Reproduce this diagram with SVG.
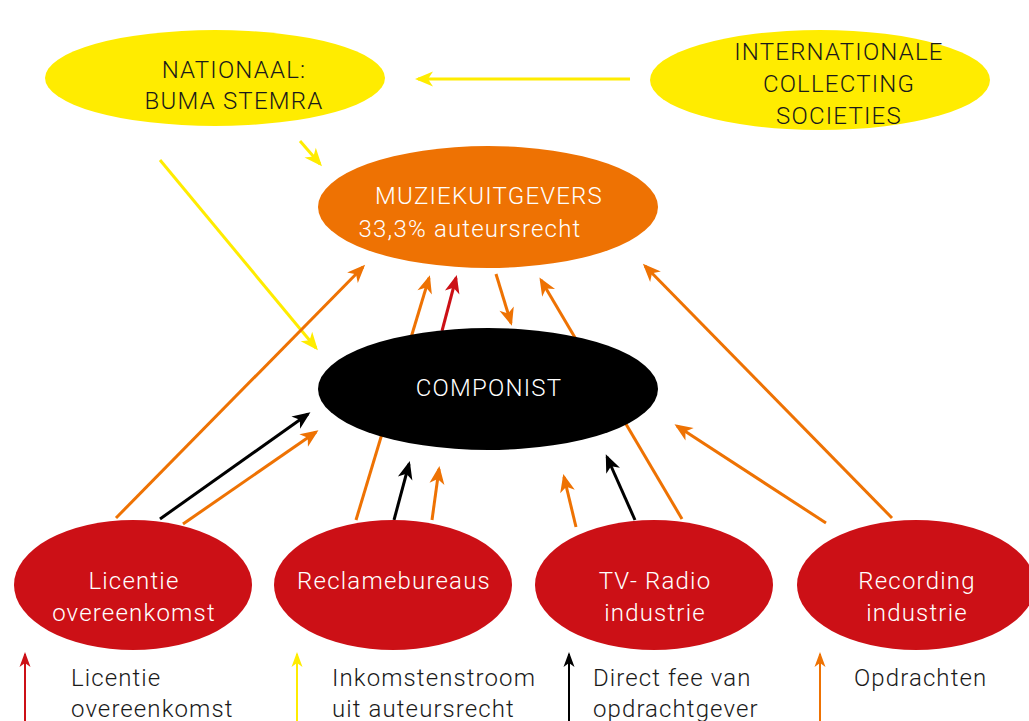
<svg xmlns="http://www.w3.org/2000/svg" width="1029" height="721" viewBox="0 0 1029 721">
  <style>
    .lbl { font-family: Roboto, "Liberation Sans", sans-serif; font-weight: 300; font-size: 24px; letter-spacing: 1.2px; text-anchor: middle; }
    .dark { fill: #1a1a1a; }
    .light { fill: #ffffff; }
    .leg { font-family: Roboto, "Liberation Sans", sans-serif; font-weight: 300; font-size: 24px; letter-spacing: 1.1px; fill: #1a1a1a; }
    .c { fill: none; stroke-width: 3; }
    .y { stroke: #FFEC00; }
    .o { stroke: #EE7203; }
    .r { stroke: #CC1016; }
    .k { stroke: #000000; }
    .ya { marker-end: url(#ay); }
    .oa { marker-end: url(#ao); }
    .ra { marker-end: url(#ar); }
    .ka { marker-end: url(#ak); }
    .l { fill: none; stroke-width: 2; }
  </style>
  <defs>
    <marker id="ay" viewBox="-20 -10 24 20" markerWidth="24" markerHeight="20" markerUnits="userSpaceOnUse" refX="-3" refY="0" orient="auto" overflow="visible">
      <path d="M0,0 L-18,-7.5 L-13,0 L-18,7.5 Z" fill="#FFEC00"/>
    </marker>
    <marker id="ao" viewBox="-20 -10 24 20" markerWidth="24" markerHeight="20" markerUnits="userSpaceOnUse" refX="-3" refY="0" orient="auto" overflow="visible">
      <path d="M0,0 L-18,-7.5 L-13,0 L-18,7.5 Z" fill="#EE7203"/>
    </marker>
    <marker id="ar" viewBox="-20 -10 24 20" markerWidth="24" markerHeight="20" markerUnits="userSpaceOnUse" refX="-3" refY="0" orient="auto" overflow="visible">
      <path d="M0,0 L-18,-7.5 L-13,0 L-18,7.5 Z" fill="#CC1016"/>
    </marker>
    <marker id="ak" viewBox="-20 -10 24 20" markerWidth="24" markerHeight="20" markerUnits="userSpaceOnUse" refX="-3" refY="0" orient="auto" overflow="visible">
      <path d="M0,0 L-18,-7.5 L-13,0 L-18,7.5 Z" fill="#000000"/>
    </marker>
    <!-- smaller heads for the legend -->
    <marker id="lr" viewBox="-16 -8 18 16" markerWidth="18" markerHeight="16" markerUnits="userSpaceOnUse" refX="-2" refY="0" orient="auto" overflow="visible">
      <path d="M0,0 L-15,-5.5 L-11,0 L-15,5.5 Z" fill="#CC1016"/>
    </marker>
    <marker id="ly" viewBox="-16 -8 18 16" markerWidth="18" markerHeight="16" markerUnits="userSpaceOnUse" refX="-2" refY="0" orient="auto" overflow="visible">
      <path d="M0,0 L-15,-5.5 L-11,0 L-15,5.5 Z" fill="#FFEC00"/>
    </marker>
    <marker id="lk" viewBox="-16 -8 18 16" markerWidth="18" markerHeight="16" markerUnits="userSpaceOnUse" refX="-2" refY="0" orient="auto" overflow="visible">
      <path d="M0,0 L-15,-5.5 L-11,0 L-15,5.5 Z" fill="#000000"/>
    </marker>
    <marker id="lo" viewBox="-16 -8 18 16" markerWidth="18" markerHeight="16" markerUnits="userSpaceOnUse" refX="-2" refY="0" orient="auto" overflow="visible">
      <path d="M0,0 L-15,-5.5 L-11,0 L-15,5.5 Z" fill="#EE7203"/>
    </marker>
  </defs>

  <rect width="1029" height="721" fill="#ffffff"/>

  <!-- connectors (drawn first so long lines pass behind the ellipses) -->
  <g id="connectors">
    <!-- royalty income flows -->
    <line class="c y ya" x1="630" y1="79" x2="418" y2="79"/>
    <line class="c y ya" x1="300" y1="141" x2="320" y2="164"/>
    <line class="c y ya" x1="160" y1="160" x2="316" y2="348"/>
    <!-- Licentie overeenkomst -->
    <line class="c o oa" x1="116" y1="518" x2="363" y2="267"/>
    <line class="c k ka" x1="160" y1="519" x2="308" y2="414"/>
    <line class="c o oa" x1="183" y1="524" x2="316" y2="432"/>
    <!-- Reclamebureaus -->
    <line class="c o oa" x1="356" y1="520" x2="429" y2="278"/>
    <line class="c k ka" x1="394" y1="520" x2="409" y2="464"/>
    <line class="c o oa" x1="432" y1="520" x2="439" y2="469"/>
    <!-- between componist and uitgevers -->
    <line class="c r ra" x1="442" y1="331" x2="456" y2="278"/>
    <line class="c o oa" x1="496" y1="274" x2="511" y2="323"/>
    <!-- TV- Radio industrie -->
    <line class="c o oa" x1="682" y1="519" x2="541" y2="280"/>
    <line class="c o oa" x1="576" y1="527" x2="564" y2="477"/>
    <line class="c k ka" x1="635" y1="520" x2="607" y2="457"/>
    <!-- Recording industrie -->
    <line class="c o oa" x1="826" y1="523" x2="677" y2="426"/>
    <line class="c o oa" x1="892" y1="518" x2="645" y2="266"/>
  </g>

  <g id="nationaal">
    <ellipse cx="215" cy="78" rx="170" ry="48" fill="#FFEC00"/>
    <text class="lbl dark" x="234" y="78">NATIONAAL:</text>
    <text class="lbl dark" x="234" y="109">BUMA STEMRA</text>
  </g>

  <g id="internationaal">
    <ellipse cx="820" cy="80" rx="170" ry="50" fill="#FFEC00"/>
    <text class="lbl dark" x="839" y="60">INTERNATIONALE</text>
    <text class="lbl dark" x="839" y="92">COLLECTING</text>
    <text class="lbl dark" x="839" y="124">SOCIETIES</text>
  </g>

  <g id="muziekuitgevers">
    <ellipse cx="488" cy="207" rx="170" ry="61" fill="#EE7203"/>
    <text class="lbl light" x="489" y="204">MUZIEKUITGEVERS</text>
    <text class="lbl light" x="470" y="237">33,3% auteursrecht</text>
  </g>

  <g id="componist">
    <ellipse cx="488" cy="389" rx="170" ry="61" fill="#000000"/>
    <text class="lbl light" x="489" y="396">COMPONIST</text>
  </g>

  <g id="licentie">
    <ellipse cx="133" cy="585" rx="119" ry="65" fill="#CC1016"/>
    <text class="lbl light" x="134" y="589">Licentie</text>
    <text class="lbl light" x="134" y="621">overeenkomst</text>
  </g>

  <g id="reclame">
    <ellipse cx="393" cy="585" rx="119" ry="65" fill="#CC1016"/>
    <text class="lbl light" x="394" y="589">Reclamebureaus</text>
  </g>

  <g id="tvradio">
    <ellipse cx="654" cy="585" rx="119" ry="65" fill="#CC1016"/>
    <text class="lbl light" x="655" y="589">TV- Radio</text>
    <text class="lbl light" x="655" y="621">industrie</text>
  </g>

  <g id="recording">
    <ellipse cx="916" cy="585" rx="119" ry="65" fill="#CC1016"/>
    <text class="lbl light" x="917" y="589">Recording</text>
    <text class="lbl light" x="917" y="621">industrie</text>
  </g>

  <!-- legend -->
  <g id="legend">
    <line class="l r" x1="25" y1="721" x2="25" y2="654" marker-end="url(#lr)"/>
    <text class="leg" x="71" y="686">Licentie</text>
    <text class="leg" x="71" y="717">overeenkomst</text>

    <line class="l y" x1="297" y1="721" x2="297" y2="654" marker-end="url(#ly)"/>
    <text class="leg" x="332" y="686">Inkomstenstroom</text>
    <text class="leg" x="332" y="717">uit auteursrecht</text>

    <line class="l k" x1="569" y1="721" x2="569" y2="654" marker-end="url(#lk)"/>
    <text class="leg" x="593" y="686">Direct fee van</text>
    <text class="leg" x="593" y="717">opdrachtgever</text>

    <line class="l o" x1="820" y1="721" x2="820" y2="654" marker-end="url(#lo)"/>
    <text class="leg" x="854" y="686">Opdrachten</text>
  </g>
</svg>
